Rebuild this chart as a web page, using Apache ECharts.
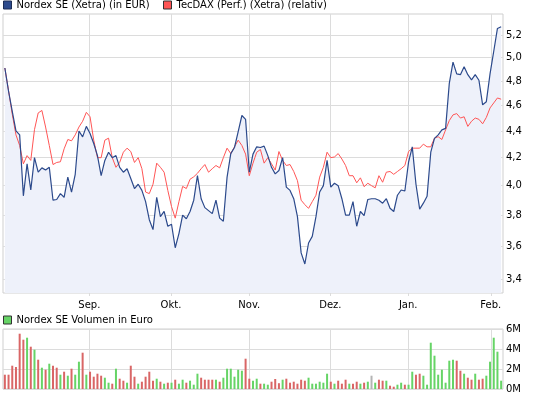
<!DOCTYPE html>
<html>
<head>
<meta charset="utf-8">
<script src="https://cdn.jsdelivr.net/npm/echarts@6/dist/echarts.min.js"></script>
<style>
html, body { margin: 0; padding: 0; background: #fff; }
#chart { width: 545px; height: 398px; }
</style>
</head>
<body>
<div id="chart"></div>
<script>
// Kurs Nordex SE (EUR), ein Wert pro Handelstag
var nordex = [
  4.91, 4.715, 4.553, 4.40, 4.37, 3.93, 4.155, 3.97, 4.20, 4.095,
  4.126, 4.11, 4.13, 3.90, 3.905, 3.945, 3.92, 4.06, 3.955, 4.08,
  4.40, 4.355, 4.435, 4.38, 4.305, 4.215, 4.07, 4.18, 4.24, 4.20,
  4.215, 4.13, 4.095, 4.12, 4.05, 3.98, 4.01, 3.967, 3.89, 3.77,
  3.705, 3.92, 3.79, 3.825, 3.727, 3.74, 3.59, 3.68, 3.80, 3.776,
  3.824, 3.90, 4.07, 3.91, 3.85, 3.83, 3.81, 3.90, 3.78, 3.76,
  4.06, 4.23, 4.275, 4.395, 4.52, 4.49, 4.095, 4.226, 4.28, 4.275,
  4.285, 4.215, 4.13, 4.083, 4.107, 4.20, 3.99, 3.967, 3.91, 3.79,
  3.558, 3.49, 3.62, 3.662, 3.79, 3.956, 4.00, 4.18, 3.99, 4.017,
  4.00, 3.91, 3.80, 3.80, 3.89, 3.727, 3.824, 3.796, 3.905, 3.91,
  3.91, 3.90, 3.88, 3.91, 3.846, 3.824, 3.934, 3.97, 3.963, 4.167,
  4.28, 4.01, 3.84, 3.88, 3.927, 4.24, 4.343, 4.37, 4.408, 4.42,
  4.78, 4.96, 4.86, 4.853, 4.92, 4.853, 4.81, 4.853, 4.806, 4.605,
  4.63, 4.86, 5.055, 5.26, 5.275
];
// TecDAX relativ zum Startkurs
var tecdax = [
  4.91, 4.72, 4.53, 4.37, 4.29, 4.155, 4.215, 4.18, 4.41, 4.54,
  4.56, 4.43, 4.29, 4.15, 4.165, 4.17, 4.265, 4.335, 4.325, 4.37,
  4.43, 4.475, 4.545, 4.51, 4.33, 4.20, 4.20, 4.33, 4.345, 4.20,
  4.13, 4.165, 4.24, 4.27, 4.245, 4.165, 4.20, 4.12, 3.956, 3.945,
  4.01, 4.16, 4.13, 4.095, 3.967, 3.857, 3.78, 3.89, 3.995, 3.98,
  4.045, 4.062, 4.087, 4.12, 4.15, 4.095, 4.12, 4.143, 4.126, 4.20,
  4.27, 4.23, 4.28, 4.33, 4.29, 4.226, 4.07, 4.16, 4.24, 4.26,
  4.16, 4.20, 4.155, 4.11, 4.245, 4.18, 4.143, 4.15, 4.10, 4.035,
  3.90, 3.87, 3.845, 3.89, 3.934, 4.06, 4.13, 4.24, 4.20, 4.205,
  4.23, 4.19, 4.143, 4.07, 4.07, 4.02, 4.055, 3.993, 4.017, 4.00,
  3.985, 4.07, 4.024, 4.095, 4.10, 4.08, 4.10, 4.12, 4.143, 4.245,
  4.27, 4.27, 4.27, 4.30, 4.28, 4.28, 4.345, 4.356, 4.335, 4.408,
  4.48, 4.525, 4.535, 4.50, 4.51, 4.435, 4.475, 4.50, 4.49, 4.455,
  4.505, 4.58, 4.62, 4.66, 4.65
];
// Umsatz in Mio. Euro
var volume = [
  1.43, 1.43, 2.33, 2.2, 5.53, 4.93, 5.13, 4.23, 3.93, 2.93,
  2.13, 1.93, 2.53, 2.33, 2.13, 1.43, 1.73, 1.33, 2.03, 1.43,
  2.73, 3.63, 1.43, 1.73, 1.23, 1.53, 1.33, 1.13, 0.63, 0.53,
  2.03, 1.03, 0.83, 0.63, 2.33, 1.23, 0.53, 0.73, 1.23, 1.73,
  0.83, 1.03, 0.73, 0.53, 0.63, 0.63, 0.93, 0.53, 0.93, 0.63,
  0.83, 0.43, 1.53, 1.13, 0.93, 0.93, 0.93, 0.93, 0.73, 1.13,
  2.03, 2.03, 1.23, 1.93, 1.83, 3.03, 1.03, 0.83, 1.03, 0.53,
  0.53, 0.43, 0.73, 1.0, 0.58, 0.93, 1.03, 0.63, 0.73, 0.53,
  0.93, 0.83, 1.13, 0.53, 0.53, 0.73, 0.63, 1.53, 0.73, 0.53,
  0.83, 0.53, 0.93, 0.53, 0.53, 0.73, 0.53, 0.63, 0.73, 1.33,
  0.63, 0.93, 0.83, 0.83, 0.33, 0.23, 0.43, 0.63, 0.43, 0.43,
  1.73, 1.43, 1.53, 1.33, 0.43, 4.63, 3.33, 1.43, 1.93, 0.63,
  2.83, 2.93, 2.83, 1.83, 1.53, 1.13, 0.93, 1.53, 0.93, 1.03,
  1.33, 2.73, 5.13, 3.73, 0.83
];
// 1 = Kurs gestiegen, -1 = gefallen, 0 = unverändert
var volDir = [
  -1, -1, -1, -1, -1, -1, 1, -1, 1, -1,
  1, -1, 1, -1, -1, 1, -1, 1, -1, 1,
  1, -1, 1, -1, -1, -1, -1, 1, 1, -1,
  1, -1, -1, 1, -1, -1, 1, -1, -1, -1,
  -1, 1, -1, 1, -1, 1, -1, 1, 1, -1,
  1, 1, 1, -1, -1, -1, -1, 1, -1, 1,
  1, 1, 1, 1, 1, -1, -1, 1, 1, -1,
  1, 1, -1, -1, -1, 1, -1, -1, -1, -1,
  -1, -1, 1, 1, 1, 1, 1, 1, -1, 1,
  -1, -1, -1, 1, -1, -1, 1, -1, 1, 0,
  1, -1, -1, 1, -1, -1, 1, 1, -1, 1,
  1, -1, -1, 1, 1, 1, 1, 1, 1, 1,
  1, 1, -1, -1, 1, -1, -1, 1, -1, -1,
  1, 1, 1, 1, 1
];
var monthLabels = ['Sep.', 'Okt.', 'Nov.', 'Dez.', 'Jan.', 'Feb.'];
var monthPos = [22.8, 44.86, 66.0, 87.9, 108.9, 131.2];
var priceTicks = [3.4, 3.6, 3.8, 4.0, 4.2, 4.4, 4.6, 4.8, 5.0, 5.2];

var nameNordex = 'Nordex SE (Xetra) (in EUR)';
var nameTec = 'TecDAX (Perf.) (Xetra) (relativ)';
var nameVol = 'Nordex SE Volumen in Euro';

var font = 'DejaVu Sans';
var gridColor = '#dcdcdc';
var dirColor = { '1': '#66d466', '-1': '#d96666', '0': '#b4b4b4' };

function pairs(arr) {
  return arr.map(function (v, i) { return [i, v]; });
}
function monthName(v) {
  var best = 0;
  for (var k = 1; k < monthPos.length; k++) {
    if (Math.abs(monthPos[k] - v) < Math.abs(monthPos[best] - v)) best = k;
  }
  return monthLabels[best];
}

var chart = echarts.init(document.getElementById('chart'));
var legendText = { fontFamily: font, fontSize: 10, color: '#000' };

chart.setOption({
  animation: false,
  textStyle: { fontFamily: font, fontSize: 10, color: '#000' },
  legend: [{
    left: 3, top: 0, padding: 0, itemWidth: 8, itemHeight: 8, icon: 'rect',
    selectedMode: false, textStyle: legendText,
    itemStyle: { borderColor: '#1c2d55', borderWidth: 1 },
    data: [nameNordex]
  }, {
    left: 163, top: 0, padding: 0, itemWidth: 8, itemHeight: 8, icon: 'rect',
    selectedMode: false, textStyle: legendText,
    itemStyle: { borderColor: '#333', borderWidth: 1 },
    data: [nameTec]
  }, {
    left: 3, top: 315, padding: 0, itemWidth: 8, itemHeight: 8, icon: 'rect',
    selectedMode: false, textStyle: legendText,
    data: [{
      name: nameVol,
      itemStyle: { color: '#66d466', borderColor: '#333', borderWidth: 1 }
    }]
  }],
  grid: [
    { left: 3, top: 14, width: 500, height: 279, show: true, borderColor: '#cfcfcf', borderWidth: 1 },
    { left: 3, top: 329, width: 500, height: 60, show: true, borderColor: '#cfcfcf', borderWidth: 1 }
  ],
  xAxis: [{
    gridIndex: 0, type: 'value', min: -0.5, max: 134.5,
    axisLine: { show: false },
    axisTick: { show: true, length: 3, lineStyle: { color: gridColor }, customValues: monthPos },
    axisLabel: { customValues: monthPos, formatter: monthName, margin: 7, color: '#000', fontSize: 10 },
    splitLine: { show: true, lineStyle: { color: gridColor } }
  }, {
    gridIndex: 1, type: 'value', min: -0.5, max: 134.5,
    axisLine: { show: false },
    axisTick: { show: false, customValues: monthPos },
    axisLabel: { show: false, customValues: monthPos },
    splitLine: { show: true, lineStyle: { color: gridColor } }
  }],
  yAxis: [{
    gridIndex: 0, type: 'log', position: 'right', min: 3.318, max: 5.394,
    axisLine: { show: false },
    axisTick: { show: false, customValues: priceTicks },
    axisLabel: {
      customValues: priceTicks, margin: 3, color: '#000', fontSize: 10,
      formatter: function (v) { return Number(v).toFixed(1).replace('.', ','); }
    },
    splitLine: { show: true, lineStyle: { color: gridColor } }
  }, {
    gridIndex: 1, type: 'value', position: 'right', min: 0, max: 6, interval: 2,
    axisLine: { show: false },
    axisTick: { show: false },
    axisLabel: { margin: 3, color: '#000', fontSize: 10, formatter: function (v) { return v + 'M'; } },
    splitLine: { show: true, lineStyle: { color: gridColor } }
  }],
  series: [{
    name: 'area', type: 'line', xAxisIndex: 0, yAxisIndex: 0,
    data: pairs(nordex), showSymbol: false, silent: true, z: 1,
    lineStyle: { width: 0, opacity: 0 },
    areaStyle: { color: '#eef1fa', opacity: 1, origin: 'start' }
  }, {
    name: nameTec, type: 'line', xAxisIndex: 0, yAxisIndex: 0,
    data: pairs(tecdax), showSymbol: false, z: 2, color: '#ff5555',
    lineStyle: { width: 1, color: '#ff5555' }
  }, {
    name: nameNordex, type: 'line', xAxisIndex: 0, yAxisIndex: 0,
    data: pairs(nordex), showSymbol: false, z: 3, color: '#2c4a8c',
    lineStyle: { width: 1.2, color: '#2c4a8c' }
  }, {
    name: nameVol, type: 'bar', xAxisIndex: 1, yAxisIndex: 1,
    barWidth: 2, color: '#66d466',
    data: volume.map(function (v, i) {
      return { value: [i, v], itemStyle: { color: dirColor[String(volDir[i])] } };
    })
  }]
});
</script>
</body>
</html>
